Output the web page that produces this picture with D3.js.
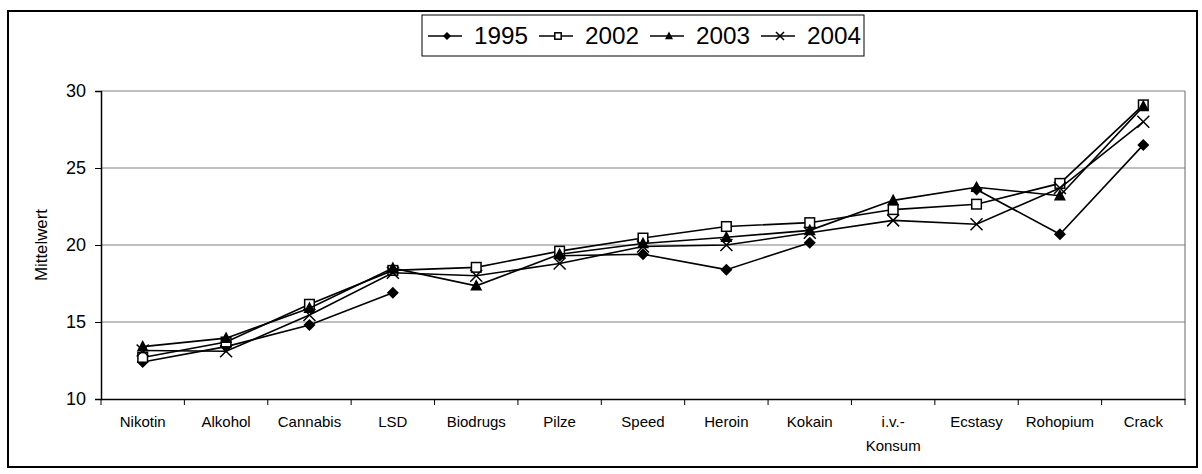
<!DOCTYPE html>
<html>
<head>
<meta charset="utf-8">
<script src="https://cdn.jsdelivr.net/npm/d3@7"></script>
<style>
  body { margin: 0; background: #fff; }
  svg { display: block; font-family: 'Liberation Sans', Arial, sans-serif; }
</style>
</head>
<body>
<svg id="chart"></svg>
<script>
const categories = ['Nikotin', 'Alkohol', 'Cannabis', 'LSD', 'Biodrugs', 'Pilze', 'Speed',
  'Heroin', 'Kokain', 'i.v.-\nKonsum', 'Ecstasy', 'Rohopium', 'Crack'];
const years = ['1995', '2002', '2003', '2004'];
const values1995 = [12.4, 13.4, 14.8, 16.9, null, 19.3, 19.4, 18.4, 20.15, null, 23.6, 20.7, 26.5];
const values2002 = [12.7, 13.7, 16.15, 18.35, 18.55, 19.6, 20.45, 21.2, 21.45, 22.3, 22.65, 24.0, 29.1];
const values2003 = [13.4, 13.95, 15.9, 18.5, 17.35, 19.4, 20.1, 20.5, 20.95, 22.9, 23.75, 23.2, 29.0];
const values2004 = [13.15, 13.1, 15.45, 18.2, 18.0, 18.8, 19.9, 20.0, 20.8, 21.6, 21.35, 23.7, 28.0];
const yTicks = [10, 15, 20, 25, 30];

const W = 1202, H = 474;
const plotLeft = 101, plotRight = 1185, plotTop = 91, plotBottom = 399;

const svg = d3.select('#chart').attr('width', W).attr('height', H);

// outer chart frame
svg.append('rect')
  .attr('x', 8).attr('y', 11).attr('width', 1189).attr('height', 456)
  .attr('fill', 'none').attr('stroke', '#000').attr('stroke-width', 2);

const x = d3.scaleBand().domain(categories).range([plotLeft, plotRight]);
const y = d3.scaleLinear().domain([10, 30]).range([plotBottom, plotTop]);
const cx = (c) => x(c) + x.bandwidth() / 2;

// gridlines
svg.append('g')
  .selectAll('line')
  .data(yTicks.slice(1))
  .enter()
  .append('line')
  .attr('x1', plotLeft).attr('x2', plotRight)
  .attr('y1', (d) => y(d)).attr('y2', (d) => y(d))
  .attr('stroke', '#808080').attr('stroke-width', 1.2);

// plot area right edge
svg.append('line')
  .attr('x1', plotRight).attr('x2', plotRight).attr('y1', plotTop).attr('y2', plotBottom)
  .attr('stroke', '#808080').attr('stroke-width', 1.2);

// y axis
const yAxis = svg.append('g')
  .attr('transform', `translate(${plotLeft},0)`)
  .call(d3.axisLeft(y).tickValues(yTicks).tickSize(6).tickPadding(9));
yAxis.select('.domain').attr('stroke', '#000').attr('stroke-width', 1.5);
yAxis.selectAll('.tick line').attr('stroke', '#000');
yAxis.selectAll('.tick text')
  .attr('font-size', 18).attr('fill', '#000')
  .attr('font-family', "'Liberation Sans', Arial, sans-serif");

// x axis: labels centred, ticks on the category boundaries
const xAxis = svg.append('g')
  .attr('transform', `translate(0,${plotBottom})`)
  .call(d3.axisBottom(x).tickSize(0).tickPadding(17).tickFormat(() => ''));
xAxis.select('.domain').attr('stroke', '#000').attr('stroke-width', 1.5);
xAxis.selectAll('.tick text').each(function (d) {
  const t = d3.select(this)
    .attr('font-size', 15).attr('fill', '#000')
    .attr('font-family', "'Liberation Sans', Arial, sans-serif");
  d.split('\n').forEach((part, i) => {
    t.append('tspan').attr('x', 0).attr('dy', i === 0 ? '0.71em' : '1.6em').text(part);
  });
});
svg.append('g')
  .selectAll('line')
  .data(d3.range(categories.length + 1))
  .enter()
  .append('line')
  .attr('x1', (i) => plotLeft + i * x.bandwidth())
  .attr('x2', (i) => plotLeft + i * x.bandwidth())
  .attr('y1', plotBottom).attr('y2', plotBottom + 6)
  .attr('stroke', '#000');

// y axis title
svg.append('text')
  .attr('transform', `translate(47,${(plotTop + plotBottom) / 2}) rotate(-90)`)
  .attr('text-anchor', 'middle')
  .attr('font-size', 17)
  .attr('textLength', 72)
  .attr('lengthAdjust', 'spacingAndGlyphs')
  .text('Mittelwert');

const series = [
  { name: years[0], values: values1995, shape: 'diamond' },
  { name: years[1], values: values2002, shape: 'square' },
  { name: years[2], values: values2003, shape: 'triangle' },
  { name: years[3], values: values2004, shape: 'cross' },
];

function marker(g, shape, px, py, s) {
  if (shape === 'diamond') {
    g.append('path')
      .attr('d', `M${px},${py - s}L${px + s},${py}L${px},${py + s}L${px - s},${py}Z`)
      .attr('fill', '#000');
  } else if (shape === 'square') {
    g.append('rect')
      .attr('x', px - s * 0.8).attr('y', py - s * 0.8)
      .attr('width', s * 1.6).attr('height', s * 1.6)
      .attr('fill', '#fff').attr('stroke', '#000').attr('stroke-width', 1.5);
  } else if (shape === 'triangle') {
    g.append('path')
      .attr('d', `M${px},${py - s * 1.1}L${px + s},${py + s * 0.8}L${px - s},${py + s * 0.8}Z`)
      .attr('fill', '#000');
  } else {
    g.append('path')
      .attr('d', `M${px - s},${py - s}L${px + s},${py + s}M${px - s},${py + s}L${px + s},${py - s}`)
      .attr('stroke', '#000').attr('stroke-width', 1.5).attr('fill', 'none');
  }
}

const line = d3.line()
  .defined((d) => d.v != null)
  .x((d) => cx(d.c))
  .y((d) => y(d.v));

const plot = svg.append('g');
series.forEach((s) => {
  const pts = categories.map((c, i) => ({ c, v: s.values[i] }));
  plot.append('path')
    .datum(pts)
    .attr('d', line)
    .attr('fill', 'none')
    .attr('stroke', '#000')
    .attr('stroke-width', 1.6);
  const mg = plot.append('g');
  pts.filter((d) => d.v != null).forEach((d) => marker(mg, s.shape, cx(d.c), y(d.v), 6));
});

// legend
const legend = svg.append('g');
legend.append('rect')
  .attr('x', 422).attr('y', 15).attr('width', 442).attr('height', 41)
  .attr('fill', '#fff').attr('stroke', '#000').attr('stroke-width', 1);
series.forEach((s, i) => {
  const lx = 428 + i * 111;
  const ly = 36;
  legend.append('line')
    .attr('x1', lx).attr('x2', lx + 34).attr('y1', ly).attr('y2', ly)
    .attr('stroke', '#000').attr('stroke-width', 1.5);
  marker(legend, s.shape, lx + 19, ly, 4);
  legend.append('text')
    .attr('x', lx + 46).attr('y', ly)
    .attr('dy', '0.36em')
    .attr('font-size', 23)
    .attr('textLength', 54)
    .attr('lengthAdjust', 'spacingAndGlyphs')
    .text(s.name);
});
</script>
</body>
</html>
